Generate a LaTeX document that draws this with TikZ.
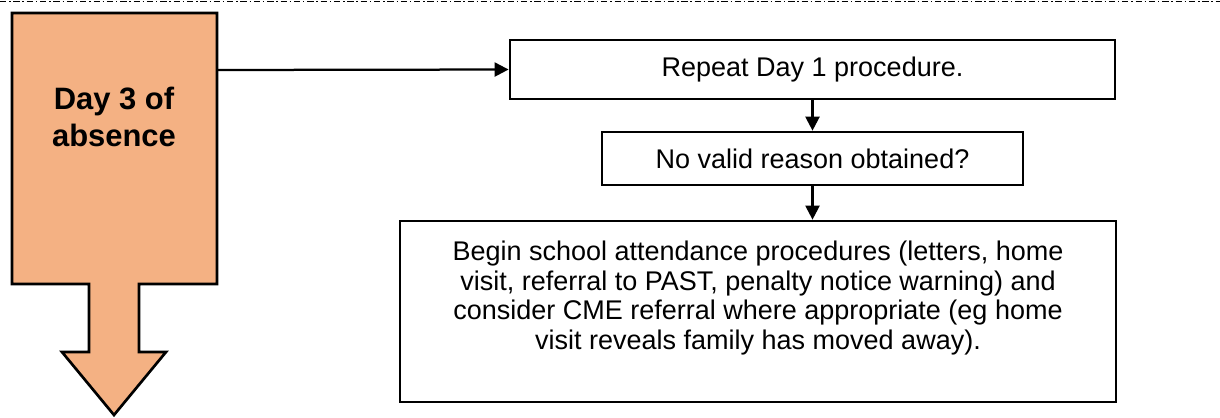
\documentclass[tikz,border=0pt]{standalone}
\usepackage{fontspec}
\setmainfont{Liberation Sans}
\usepackage{tikz}
\usetikzlibrary{arrows.meta}
\usetikzlibrary{positioning}
\tikzset{flow/.style = {line width = 1.6pt, -{Triangle[length = 10pt, width = 10pt]}}}
\tikzset{stepbox/.style = {draw, line width = 1.9pt, inner sep = 0, align = center,
                           font = \fontsize{19.2}{21.3}\selectfont}}
\definecolor{dayorange}{RGB}{244, 177, 131}

\begin{document}
\begin{tikzpicture}[x=0.025cm, y=-0.025cm]
    \useasboundingbox (0, 0) rectangle (1220, 417);
    \draw [line width = 1.1pt, dash pattern = on 4.5pt off 2pt on 1pt off 2pt] (0, 1.5) -- (1220, 1.5);

    \draw [line width = 1.9pt, fill = dayorange, line join = miter]
        (12, 13) -- (217, 13) -- (217, 284) -- (139, 284) -- (139, 352) -- (166, 352)
        -- (114, 415) -- (62, 352) -- (89, 352) -- (89, 284) -- (12, 284) -- cycle;
    \node [align = center, font = \fontsize{22}{26}\selectfont\bfseries] (day3) at (114, 117) {Day 3 of\\absence};
    \coordinate (day3out) at (217, 70);

    \node [stepbox, minimum width = 15.125cm, minimum height = 1.475cm] (repeat) at (812.5, 69.5) {Repeat Day 1 procedure.};
    \node [stepbox, minimum width = 10.525cm, minimum height = 1.325cm] (noreason) at (812.5, 158.5) {No valid reason obtained?};
    \node [stepbox, minimum width = 17.9cm, minimum height = 4.525cm] (begin) at (758, 311.5) {};
    \node [align = center, font = \fontsize{19.2}{21.3}\selectfont] (begintext) at (758, 298)
        {Begin school attendance procedures (letters, home\\
         visit, referral to PAST, penalty notice warning) and\\
         consider CME referral where appropriate (eg home\\
         visit reveals family has moved away).};

    \draw [flow] (day3out) -- (repeat.west);
    \draw [flow] (repeat.south) -- (noreason.north);
    \draw [flow] (noreason.south) -- (noreason.south |- begin.north);
\end{tikzpicture}
\end{document}
